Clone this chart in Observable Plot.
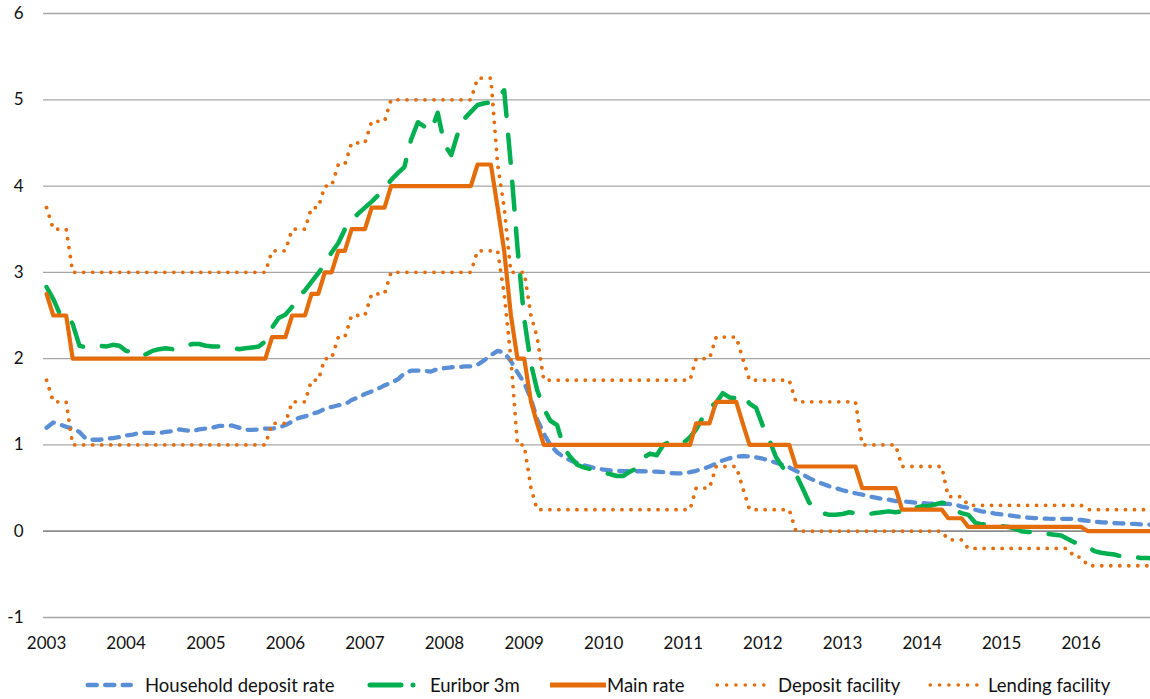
<!DOCTYPE html>
<html>
<head>
<meta charset="utf-8">
<script src="https://cdn.jsdelivr.net/npm/d3@7"></script>
<script src="https://cdn.jsdelivr.net/npm/@observablehq/plot@0.6"></script>
<style>
  body { margin: 0; background: #fff; font-family: Lato, "Open Sans", sans-serif; }
  #wrap { position: relative; width: 1150px; height: 699px; overflow: hidden; }
  .lg-sw { position: absolute; top: 676px; height: 18px; }
  .lg-tx { position: absolute; top: 673px; height: 24px; line-height: 24px; font-size: 18.5px; color: #111; white-space: nowrap; }
</style>
</head>
<body>
<div id="wrap"></div>
<script>
// ---------- DATA (monthly, Jan 2003 – Dec 2016) ----------
const years = [2003, 2004, 2005, 2006, 2007, 2008, 2009, 2010, 2011, 2012, 2013, 2014, 2015, 2016];
const yTicks = [-1, 0, 1, 2, 3, 4, 5, 6];
const seriesNames = ["Household deposit rate", "Euribor 3m", "Main rate", "Deposit facility", "Lending facility"];

const householdDeposit = [
  1.20, 1.26, 1.24, 1.21, 1.19, 1.15, 1.07, 1.06, 1.06, 1.07, 1.08, 1.09,
  1.11, 1.12, 1.14, 1.14, 1.14, 1.14, 1.15, 1.16, 1.18, 1.17, 1.16, 1.18,
  1.19, 1.20, 1.22, 1.22, 1.225, 1.20, 1.175, 1.175, 1.18, 1.19, 1.19, 1.20,
  1.23, 1.27, 1.31, 1.33, 1.36, 1.38, 1.42, 1.44, 1.46, 1.47, 1.52, 1.55,
  1.59, 1.62, 1.65, 1.69, 1.72, 1.76, 1.83, 1.86, 1.86, 1.86, 1.85, 1.88,
  1.89, 1.90, 1.90, 1.91, 1.91, 1.93, 1.98, 2.04, 2.09, 2.07, 1.97, 1.84,
  1.72, 1.53, 1.30, 1.13, 1.00, 0.915, 0.86, 0.82, 0.79, 0.765, 0.745, 0.725,
  0.715, 0.705, 0.70, 0.695, 0.695, 0.695, 0.695, 0.69, 0.69, 0.685, 0.675, 0.67,
  0.67, 0.685, 0.70, 0.725, 0.75, 0.785, 0.82, 0.845, 0.865, 0.87, 0.865, 0.855,
  0.84, 0.82, 0.795, 0.77, 0.74, 0.70, 0.66, 0.615, 0.58, 0.55, 0.52, 0.50,
  0.475, 0.455, 0.44, 0.425, 0.405, 0.39, 0.375, 0.365, 0.35, 0.345, 0.34, 0.33,
  0.325, 0.32, 0.317, 0.317, 0.317, 0.31, 0.285, 0.27, 0.25, 0.23, 0.22, 0.205,
  0.195, 0.185, 0.175, 0.165, 0.158, 0.152, 0.148, 0.145, 0.144, 0.144, 0.144, 0.14,
  0.13, 0.12, 0.11, 0.104, 0.10, 0.095, 0.09, 0.088, 0.085, 0.08, 0.078, 0.075
];

const euribor3m = [
  2.83, 2.69, 2.53, 2.53, 2.40, 2.15, 2.13, 2.14, 2.15, 2.14, 2.16, 2.15,
  2.09, 2.07, 2.03, 2.05, 2.09, 2.11, 2.12, 2.11, 2.12, 2.15, 2.17, 2.17,
  2.15, 2.14, 2.14, 2.14, 2.13, 2.11, 2.12, 2.13, 2.14, 2.20, 2.36, 2.47,
  2.51, 2.60, 2.72, 2.79, 2.89, 2.99, 3.10, 3.23, 3.34, 3.50, 3.60, 3.68,
  3.75, 3.82, 3.89, 3.98, 4.07, 4.15, 4.22, 4.54, 4.74, 4.69, 4.64, 4.85,
  4.48, 4.36, 4.60, 4.78, 4.86, 4.94, 4.96, 4.97, 5.02, 5.11, 4.24, 3.29,
  2.46, 1.94, 1.64, 1.42, 1.28, 1.23, 0.97, 0.86, 0.77, 0.74, 0.72, 0.71,
  0.68, 0.66, 0.64, 0.64, 0.69, 0.73, 0.85, 0.90, 0.88, 1.00, 1.04, 1.02,
  1.02, 1.09, 1.18, 1.32, 1.43, 1.49, 1.60, 1.55, 1.54, 1.58, 1.48, 1.43,
  1.22, 1.05, 0.86, 0.74, 0.68, 0.66, 0.50, 0.33, 0.25, 0.21, 0.19, 0.19,
  0.20, 0.22, 0.21, 0.21, 0.20, 0.21, 0.22, 0.23, 0.22, 0.23, 0.22, 0.27,
  0.29, 0.29, 0.31, 0.33, 0.32, 0.24, 0.21, 0.19, 0.10, 0.08, 0.08, 0.08,
  0.06, 0.05, 0.03, 0.00, -0.01, -0.01, -0.02, -0.03, -0.04, -0.05, -0.09, -0.13,
  -0.15, -0.18, -0.23, -0.25, -0.26, -0.27, -0.29, -0.30, -0.30, -0.31, -0.31, -0.32
];

const mainRate = [
  2.75, 2.5, 2.5, 2.5, 2, 2, 2, 2, 2, 2, 2, 2,
  2, 2, 2, 2, 2, 2, 2, 2, 2, 2, 2, 2,
  2, 2, 2, 2, 2, 2, 2, 2, 2, 2, 2.25, 2.25,
  2.25, 2.5, 2.5, 2.5, 2.75, 2.75, 3, 3, 3.25, 3.25, 3.5, 3.5,
  3.5, 3.75, 3.75, 3.75, 4, 4, 4, 4, 4, 4, 4, 4,
  4, 4, 4, 4, 4, 4.25, 4.25, 4.25, 3.75, 3.25, 2.5, 2,
  2, 1.5, 1.25, 1, 1, 1, 1, 1, 1, 1, 1, 1,
  1, 1, 1, 1, 1, 1, 1, 1, 1, 1, 1, 1,
  1, 1, 1.25, 1.25, 1.25, 1.5, 1.5, 1.5, 1.5, 1.25, 1, 1,
  1, 1, 1, 1, 1, 0.75, 0.75, 0.75, 0.75, 0.75, 0.75, 0.75,
  0.75, 0.75, 0.75, 0.5, 0.5, 0.5, 0.5, 0.5, 0.5, 0.25, 0.25, 0.25,
  0.25, 0.25, 0.25, 0.25, 0.15, 0.15, 0.15, 0.05, 0.05, 0.05, 0.05, 0.05,
  0.05, 0.05, 0.05, 0.05, 0.05, 0.05, 0.05, 0.05, 0.05, 0.05, 0.05, 0.05,
  0.05, 0, 0, 0, 0, 0, 0, 0, 0, 0, 0, 0
];

const depositFacility = [
  1.75, 1.5, 1.5, 1.5, 1, 1, 1, 1, 1, 1, 1, 1,
  1, 1, 1, 1, 1, 1, 1, 1, 1, 1, 1, 1,
  1, 1, 1, 1, 1, 1, 1, 1, 1, 1, 1.25, 1.25,
  1.25, 1.5, 1.5, 1.5, 1.75, 1.75, 2, 2, 2.25, 2.25, 2.5, 2.5,
  2.5, 2.75, 2.75, 2.75, 3, 3, 3, 3, 3, 3, 3, 3,
  3, 3, 3, 3, 3, 3.25, 3.25, 3.25, 3.25, 2.75, 2, 1,
  1, 0.5, 0.25, 0.25, 0.25, 0.25, 0.25, 0.25, 0.25, 0.25, 0.25, 0.25,
  0.25, 0.25, 0.25, 0.25, 0.25, 0.25, 0.25, 0.25, 0.25, 0.25, 0.25, 0.25,
  0.25, 0.25, 0.5, 0.5, 0.5, 0.75, 0.75, 0.75, 0.75, 0.5, 0.25, 0.25,
  0.25, 0.25, 0.25, 0.25, 0.25, 0, 0, 0, 0, 0, 0, 0,
  0, 0, 0, 0, 0, 0, 0, 0, 0, 0, 0, 0,
  0, 0, 0, 0, -0.1, -0.1, -0.1, -0.2, -0.2, -0.2, -0.2, -0.2,
  -0.2, -0.2, -0.2, -0.2, -0.2, -0.2, -0.2, -0.2, -0.2, -0.2, -0.2, -0.3,
  -0.3, -0.4, -0.4, -0.4, -0.4, -0.4, -0.4, -0.4, -0.4, -0.4, -0.4, -0.4
];

const lendingFacility = [
  3.75, 3.5, 3.5, 3.5, 3, 3, 3, 3, 3, 3, 3, 3,
  3, 3, 3, 3, 3, 3, 3, 3, 3, 3, 3, 3,
  3, 3, 3, 3, 3, 3, 3, 3, 3, 3, 3.25, 3.25,
  3.25, 3.5, 3.5, 3.5, 3.75, 3.75, 4, 4, 4.25, 4.25, 4.5, 4.5,
  4.5, 4.75, 4.75, 4.75, 5, 5, 5, 5, 5, 5, 5, 5,
  5, 5, 5, 5, 5, 5.25, 5.25, 5.25, 4.25, 3.75, 3, 3,
  3, 2.5, 2.25, 1.75, 1.75, 1.75, 1.75, 1.75, 1.75, 1.75, 1.75, 1.75,
  1.75, 1.75, 1.75, 1.75, 1.75, 1.75, 1.75, 1.75, 1.75, 1.75, 1.75, 1.75,
  1.75, 1.75, 2, 2, 2, 2.25, 2.25, 2.25, 2.25, 2, 1.75, 1.75,
  1.75, 1.75, 1.75, 1.75, 1.75, 1.5, 1.5, 1.5, 1.5, 1.5, 1.5, 1.5,
  1.5, 1.5, 1.5, 1, 1, 1, 1, 1, 1, 0.75, 0.75, 0.75,
  0.75, 0.75, 0.75, 0.75, 0.4, 0.4, 0.4, 0.3, 0.3, 0.3, 0.3, 0.3,
  0.3, 0.3, 0.3, 0.3, 0.3, 0.3, 0.3, 0.3, 0.3, 0.3, 0.3, 0.3,
  0.3, 0.25, 0.25, 0.25, 0.25, 0.25, 0.25, 0.25, 0.25, 0.25, 0.25, 0.25
];

// ---------- STYLES ----------
const BLUE = "#5a8fd6", GREEN = "#00b050", ORANGE = "#e46c0a";
const styles = {
  "Household deposit rate": {stroke: BLUE, strokeWidth: 4.3, strokeDasharray: "9,8.5"},
  "Euribor 3m": {stroke: GREEN, strokeWidth: 4.5, strokeDasharray: "28,19"},
  "Main rate": {stroke: ORANGE, strokeWidth: 4.2, strokeDasharray: null},
  "Deposit facility": {stroke: ORANGE, strokeWidth: 3.8, strokeDasharray: "0.01,9"},
  "Lending facility": {stroke: ORANGE, strokeWidth: 3.8, strokeDasharray: "0.01,9"}
};
const seriesValues = [householdDeposit, euribor3m, mainRate, depositFacility, lendingFacility];

const months = householdDeposit.map((_, i) => new Date(Date.UTC(2003, i, 1)));
const rows = (vals) => vals.map((v, i) => ({date: months[i], value: v}));

const lineMarks = seriesNames.map((name, k) => {
  const s = styles[name];
  const opts = {x: "date", y: "value", stroke: s.stroke, strokeWidth: s.strokeWidth,
    strokeLinecap: "round", strokeLinejoin: "round", clip: true};
  if (s.strokeDasharray) opts.strokeDasharray = s.strokeDasharray;
  return Plot.line(rows(seriesValues[k]), opts);
});

const chart = Plot.plot({
  width: 1150,
  height: 660,
  marginLeft: 43,
  marginRight: 0,
  marginTop: 13,
  marginBottom: 43,
  style: {fontFamily: "Lato, 'Open Sans', sans-serif", fontSize: "17px", color: "#111", background: "#fff"},
  x: {
    type: "utc",
    domain: [new Date(Date.UTC(2002, 11, 18)), new Date(Date.UTC(2016, 10, 14))],
    ticks: years.map(y => new Date(Date.UTC(y, 0, 1))),
    tickFormat: d => String(d.getUTCFullYear()),
    tickSize: 0,
    tickPadding: 19,
    label: null
  },
  y: {
    domain: [-1, 6],
    ticks: yTicks,
    tickFormat: d => String(d),
    tickSize: 0,
    tickPadding: 20,
    label: null
  },
  marks: [
    Plot.ruleY(yTicks.filter(t => t !== 0), {stroke: "#a6a6a6", strokeWidth: 1.3}),
    Plot.ruleY([0], {stroke: "#8c8c8c", strokeWidth: 1.7}),
    ...lineMarks
  ]
});

const wrap = document.getElementById("wrap");
wrap.appendChild(chart);

// ---------- LEGEND ----------
const legendPos = [
  {sw: 85, w: 48, tx: 145},
  {sw: 367, w: 55, tx: 430},
  {sw: 550, w: 56, tx: 607},
  {sw: 715, w: 53, tx: 778},
  {sw: 928, w: 51, tx: 988}
];
const legendSwatch = {
  "Household deposit rate": {dash: "9,8.5", width: 4.5},
  "Euribor 3m": {dash: "31,12,0.01,12", width: 5},
  "Main rate": {dash: null, width: 5, cap: "butt"},
  "Deposit facility": {dash: "0.01,9.3", width: 3.6},
  "Lending facility": {dash: "0.01,9.3", width: 3.6}
};
seriesNames.forEach((name, k) => {
  const p = legendPos[k], s = legendSwatch[name];
  const svg = d3.select(wrap).append("svg")
    .attr("class", "lg-sw")
    .style("left", p.sw + "px")
    .attr("width", p.w).attr("height", 18);
  const ln = svg.append("line")
    .attr("x1", s.cap === "butt" ? 0 : s.width / 2 + 0.5)
    .attr("x2", s.cap === "butt" ? p.w : p.w - s.width / 2)
    .attr("y1", 9).attr("y2", 9)
    .attr("stroke", styles[name].stroke)
    .attr("stroke-width", s.width)
    .attr("stroke-linecap", s.cap || "round");
  if (s.dash) ln.attr("stroke-dasharray", s.dash);
  d3.select(wrap).append("div")
    .attr("class", "lg-tx")
    .style("left", p.tx + "px")
    .text(name);
});
</script>
</body>
</html>
